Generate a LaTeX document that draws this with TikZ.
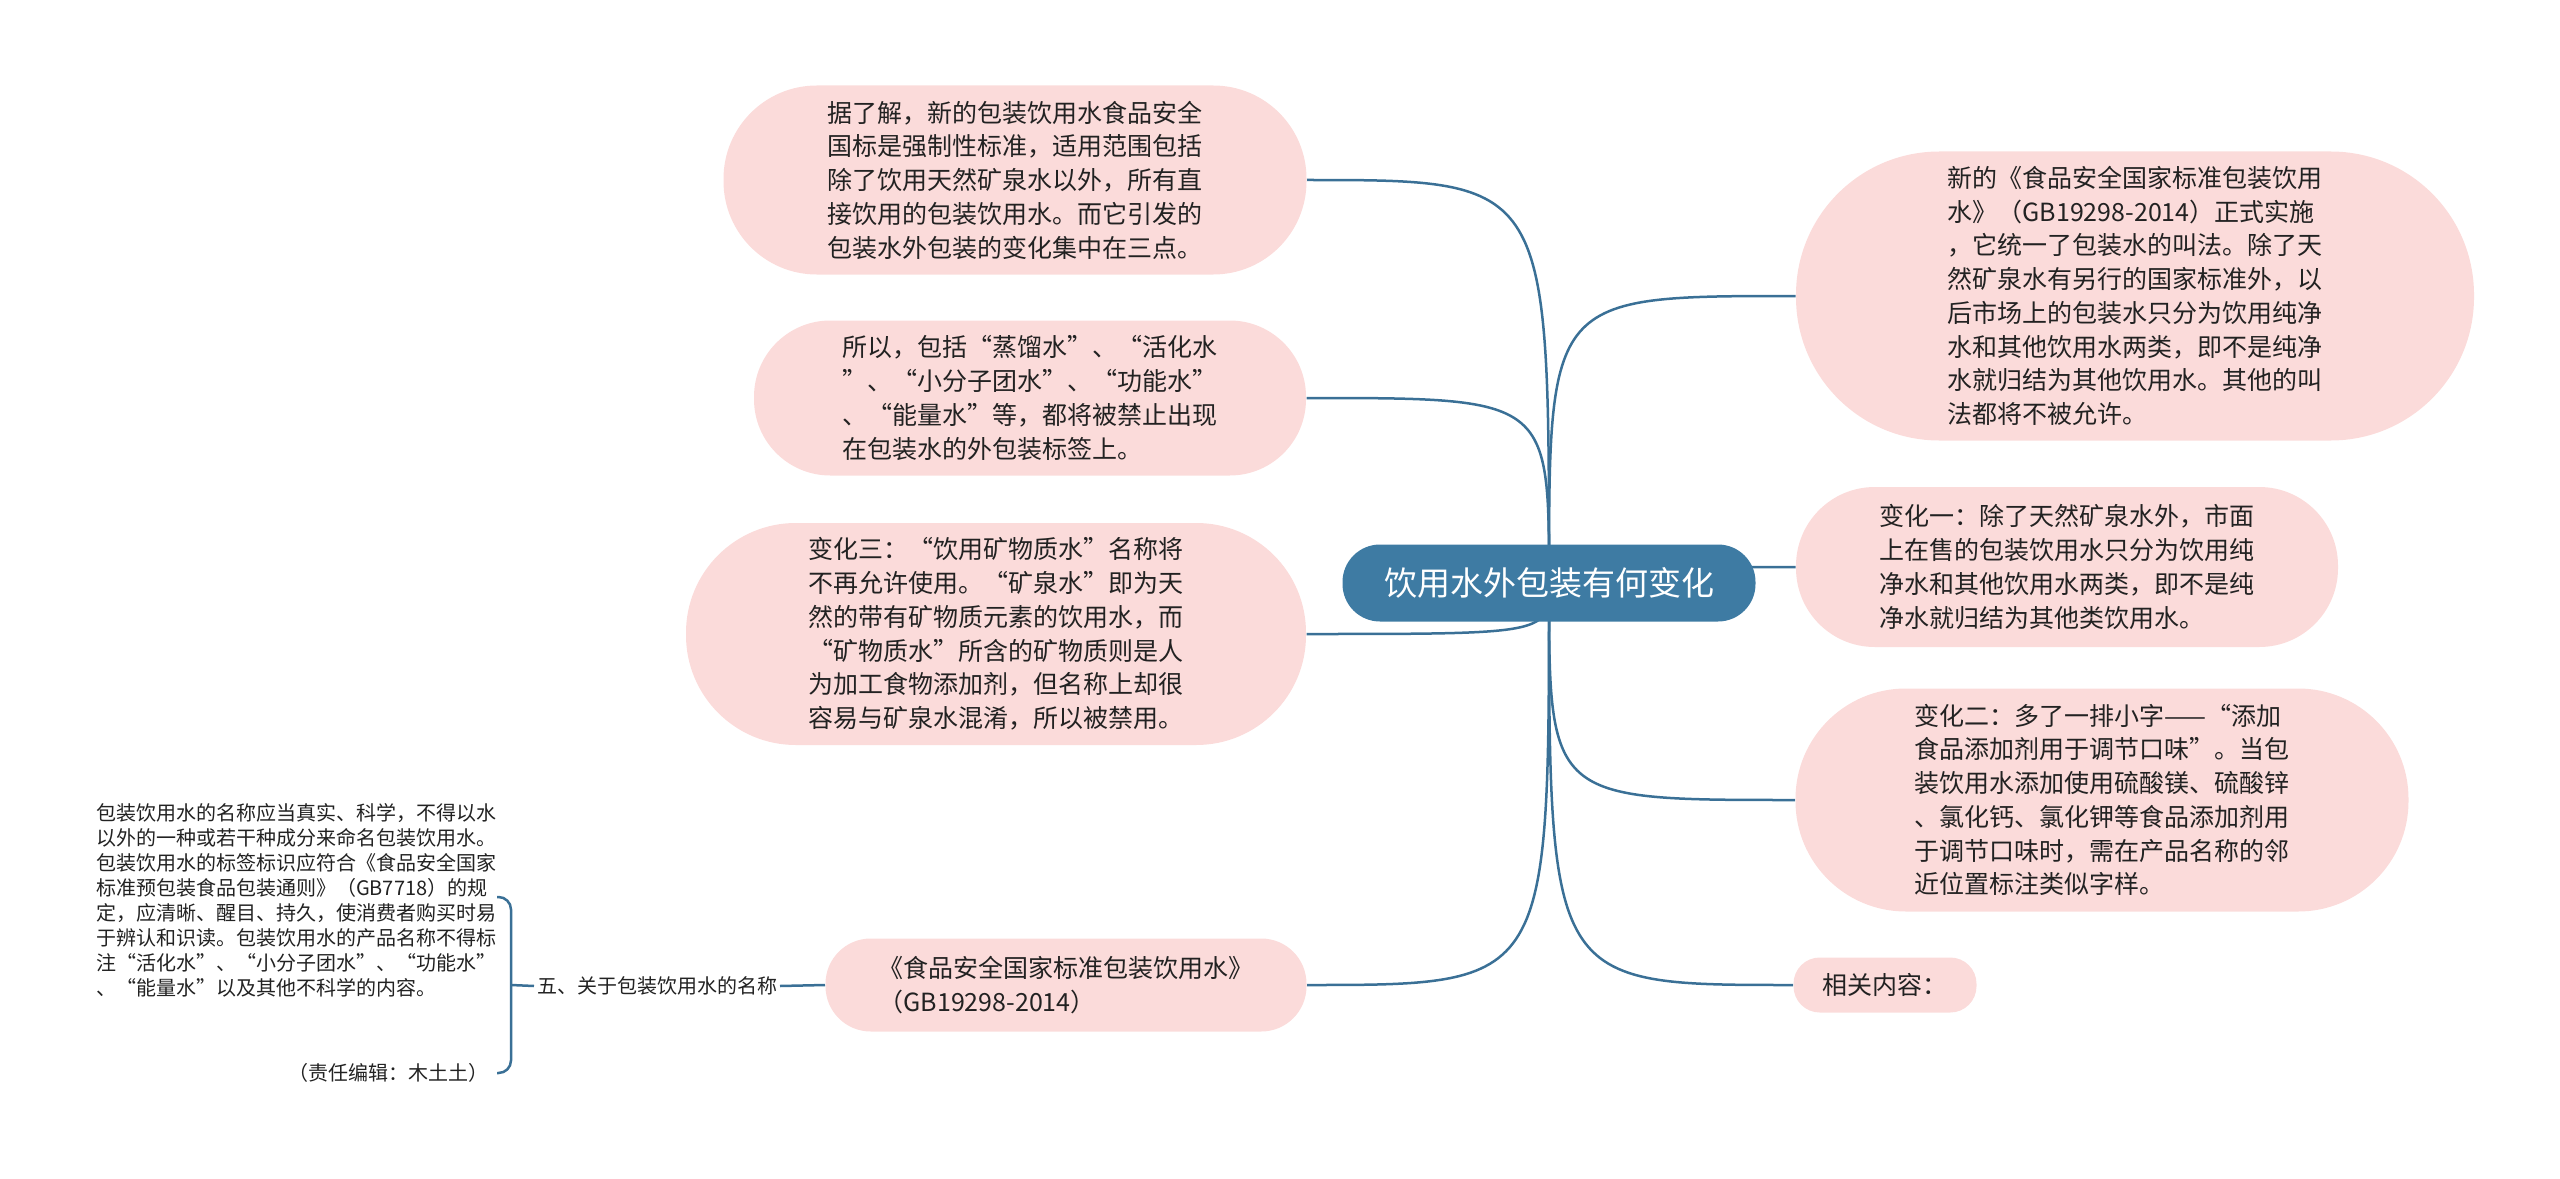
\documentclass[tikz,border=0pt]{standalone}
\usepackage{fontspec}
\setmainfont{Noto Sans CJK SC}
\usetikzlibrary{backgrounds}

\definecolor{rootblue}{RGB}{62,123,163}
\definecolor{branchline}{RGB}{58,112,150}
\definecolor{bubblepink}{RGB}{251,219,218}
\definecolor{inktext}{RGB}{34,34,34}

\tikzset{
  bubble/.style 2 args={fill=bubblepink, text=inktext, align=left, inner sep=2pt,
    minimum width=#1, minimum height=#2, rounded corners=#2/2-0.5pt,
    font=\fontsize{10}{13.5}\selectfont},
  branch/.style={draw=branchline, line width=1pt},
  smalltext/.style={text=inktext, inner sep=1pt, font=\fontsize{8}{10}\selectfont}
}

\begin{document}
\begin{tikzpicture}[x=0.4pt,y=-0.4pt]
\useasboundingbox (0,0) rectangle (2560,1179);

\node[fill=rootblue, text=white, rounded corners=15pt, minimum width=165.2pt, minimum height=30.8pt,
  font=\fontsize{13.2}{16}\selectfont] (root) at (1549,583) {饮用水外包装有何变化};

\node[bubble={233.2pt}{75.6pt}] (l1) at (1015,180) {据了解，新的包装饮用水食品安全\\国标是强制性标准，适用范围包括\\除了饮用天然矿泉水以外，所有直\\接饮用的包装饮用水。而它引发的\\包装水外包装的变化集中在三点。};
\node[bubble={220.8pt}{62pt}] (l2) at (1030,398) {所以，包括“蒸馏水”、“活化水\\”、“小分子团水”、“功能水”\\、“能量水”等，都将被禁止出现\\在包装水的外包装标签上。};
\node[bubble={248pt}{88.8pt}] (l3) at (996,634) {变化三：“饮用矿物质水”名称将\\不再允许使用。“矿泉水”即为天\\然的带有矿物质元素的饮用水，而\\“矿物质水”所含的矿物质则是人\\为加工食物添加剂，但名称上却很\\容易与矿泉水混淆，所以被禁用。};
\node[bubble={192.4pt}{37.2pt}] (l4) at (1066,985) {《食品安全国家标准包装饮用水》\\（GB19298-2014）};

\node[bubble={271.2pt}{115.6pt}] (r1) at (2135,296) {新的《食品安全国家标准包装饮用\\水》（GB19298-2014）正式实施\\，它统一了包装水的叫法。除了天\\然矿泉水有另行的国家标准外，以\\后市场上的包装水只分为饮用纯净\\水和其他饮用水两类，即不是纯净\\水就归结为其他饮用水。其他的叫\\法都将不被允许。};
\node[bubble={216.8pt}{64pt}] (r2) at (2067,567) {变化一：除了天然矿泉水外，市面\\上在售的包装饮用水只分为饮用纯\\净水和其他饮用水两类，即不是纯\\净水就归结为其他类饮用水。};
\node[bubble={245.2pt}{89.2pt}] (r3) at (2102,800) {变化二：多了一排小字——“添加\\食品添加剂用于调节口味”。当包\\装饮用水添加使用硫酸镁、硫酸锌\\、氯化钙、氯化钾等食品添加剂用\\于调节口味时，需在产品名称的邻\\近位置标注类似字样。};
\node[bubble={73.2pt}{22pt}] (r4) at (1885,985) {相关内容：};

\node[smalltext] (label) at (657,986) {五、关于包装饮用水的名称};
\node[smalltext, align=left, anchor=north west] (note) at (93,801) {包装饮用水的名称应当真实、科学，不得以水\\以外的一种或若干种成分来命名包装饮用水。\\包装饮用水的标签标识应符合《食品安全国家\\标准预包装食品包装通则》（GB7718）的规\\定，应清晰、醒目、持久，使消费者购买时易\\于辨认和识读。包装饮用水的产品名称不得标\\注“活化水”、“小分子团水”、“功能水”\\、“能量水”以及其他不科学的内容。};
\node[smalltext] (editor) at (388,1073) {（责任编辑：木土土）};

\coordinate (bracetop) at (497,897);
\coordinate (bracebot) at (497,1073);
\coordinate (brace) at (511,985);

\begin{scope}[on background layer]
\draw[branch] (root.center) .. controls (root.center |- l1.east) .. (l1.east);
\draw[branch] (root.center) .. controls (root.center |- l2.east) .. (l2.east);
\draw[branch] (root.center) .. controls (root.center |- l3.east) .. (l3.east);
\draw[branch] (root.center) .. controls (root.center |- l4.east) .. (l4.east);
\draw[branch] (root.center) .. controls (root.center |- r1.west) .. (r1.west);
\draw[branch] (root.center) .. controls (root.center |- r2.west) .. (r2.west);
\draw[branch] (root.center) .. controls (root.center |- r3.west) .. (r3.west);
\draw[branch] (root.center) .. controls (root.center |- r4.west) .. (r4.west);
\end{scope}

\draw[branch] (label.east) -- (l4.west);
\draw[branch, rounded corners=5pt] (bracetop) -- (brace |- bracetop) -- (brace |- bracebot) -- (bracebot);
\draw[branch] (brace) -- (label.west);
\end{tikzpicture}
\end{document}
